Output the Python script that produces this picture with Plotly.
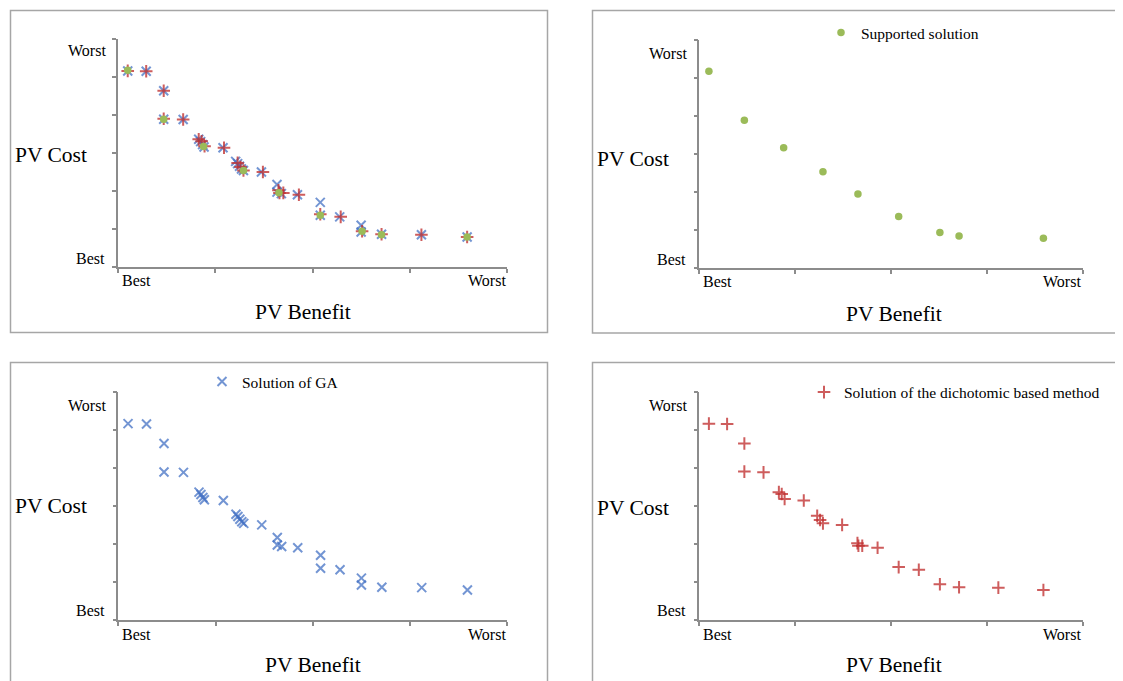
import plotly.graph_objects as go

# the page body adds an 8px margin, so the figure is drawn 8px in from the window corner
OFF = 8
W, H = 1123 - OFF, 681 - OFF

# ---------------- data (abstract "Best" -> "Worst" scales: x 0..4, y 0..6) ----------------
supported_x = [0.10, 0.47, 0.88, 1.29, 1.655, 2.08, 2.51, 2.71, 3.59]
supported_y = [5.18, 3.89, 3.17, 2.54, 1.955, 1.36, 0.94, 0.85, 0.79]

ga_x = [0.10, 0.29, 0.47, 0.47, 0.67, 0.83, 0.85, 0.87, 0.885, 1.08,
        1.21, 1.23, 1.25, 1.27, 1.29, 1.475, 1.635, 1.635, 1.68, 1.845,
        2.08, 2.08, 2.28, 2.50, 2.50, 2.71, 3.12, 3.59]
ga_y = [5.16, 5.15, 4.64, 3.89, 3.88, 3.36, 3.30, 3.22, 3.16, 3.14,
        2.78, 2.72, 2.65, 2.58, 2.54, 2.50, 2.17, 1.97, 1.93, 1.90,
        1.70, 1.36, 1.32, 1.10, 0.92, 0.86, 0.85, 0.79]

dm_x = [0.10, 0.29, 0.47, 0.47, 0.67, 0.83, 0.86, 0.89, 1.09,
        1.23, 1.26, 1.29, 1.49, 1.65, 1.70, 1.66, 1.86,
        2.08, 2.29, 2.51, 2.71, 3.12, 3.59]
dm_y = [5.16, 5.15, 4.64, 3.90, 3.88, 3.36, 3.31, 3.18, 3.14,
        2.74, 2.63, 2.54, 2.50, 2.02, 1.95, 1.95, 1.90,
        1.39, 1.32, 0.94, 0.86, 0.85, 0.79]

x_tickvals = [0, 1, 2, 3, 4]
y_tickvals = [0, 1, 2, 3, 4, 5, 6]
scale_labels = ["Best", "Worst"]
x_title = "PV Benefit"
y_title = "PV Cost"
legend_names = ["Supported solution", "Solution of the dichotomic based method", "Solution of GA"]

# ---------------- styles ----------------
FONT = "Liberation Serif, Times New Roman, serif"
AX_COL = "#8c8c8c"
BOX_COL = "#a6a6a6"
GREEN = "#9BBB59"
BLUE = "rgba(68,114,196,0.75)"
RED = "rgba(192,48,48,0.78)"


def px_x(p):
    return (p - OFF) / W


def px_y(p):
    return 1 - (p - OFF) / H


fig = go.Figure()

# panel axes in window pixels: (left, right, top, bottom)
panels = {
    "": (118, 507, 39, 267),
    "2": (699.3, 1082.7, 40, 268.3),
    "3": (118.3, 507.3, 391.7, 620),
    "4": (699.3, 1082.7, 391.7, 620),
}


def ga_trace(ax, show, legend="legend"):
    return go.Scatter(x=ga_x, y=ga_y, mode="markers", name=legend_names[2],
                      xaxis="x" + ax, yaxis="y" + ax, showlegend=show, legend=legend,
                      marker=dict(symbol="x-thin-open", size=9, color=BLUE,
                                  line=dict(color=BLUE, width=2)))


def dm_trace(ax, show, legend="legend"):
    return go.Scatter(x=dm_x, y=dm_y, mode="markers", name=legend_names[1],
                      xaxis="x" + ax, yaxis="y" + ax, showlegend=show, legend=legend,
                      marker=dict(symbol="cross-thin-open", size=9, color=RED,
                                  line=dict(color=RED, width=2)))


def sup_trace(ax, show, legend="legend"):
    return go.Scatter(x=supported_x, y=supported_y, mode="markers", name=legend_names[0],
                      xaxis="x" + ax, yaxis="y" + ax, showlegend=show, legend=legend,
                      marker=dict(symbol="circle", size=7.5, color=GREEN))


# top-left composite
fig.add_trace(ga_trace("", False))
fig.add_trace(dm_trace("", False))
fig.add_trace(sup_trace("", False))
# top-right supported
fig.add_trace(sup_trace("2", True, "legend"))
# bottom-left GA
fig.add_trace(ga_trace("3", True, "legend2"))
# bottom-right dichotomic
fig.add_trace(dm_trace("4", True, "legend3"))

layout = dict(width=W, height=H, margin=dict(l=0, r=0, t=0, b=0),
              paper_bgcolor="white", plot_bgcolor="white",
              font=dict(family=FONT, color="black"))

for ax, (l, r, t, b) in panels.items():
    layout["xaxis" + ax] = dict(domain=[px_x(l), px_x(r)], range=[0, 4], anchor="y" + ax,
                                tickvals=x_tickvals, showticklabels=False, ticks="outside",
                                ticklen=4, tickwidth=1.5, tickcolor=AX_COL, showline=True,
                                linecolor=AX_COL, linewidth=1.5, showgrid=False, zeroline=False,
                                fixedrange=True)
    layout["yaxis" + ax] = dict(domain=[px_y(b), px_y(t)], range=[0, 6], anchor="x" + ax,
                                tickvals=y_tickvals, showticklabels=False, ticks="outside",
                                ticklen=4, tickwidth=1.5, tickcolor=AX_COL, showline=True,
                                linecolor=AX_COL, linewidth=1.5, showgrid=False, zeroline=False,
                                fixedrange=True)

leg_common = dict(font=dict(family=FONT, size=15.5, color="black"), bgcolor="rgba(0,0,0,0)",
                  borderwidth=0, xanchor="left", yanchor="middle", itemwidth=30)
layout["legend"] = dict(leg_common, x=px_x(841 - 20), y=px_y(33))
layout["legend2"] = dict(leg_common, x=px_x(222 - 20), y=px_y(382))
layout["legend3"] = dict(leg_common, x=px_x(824 - 20), y=px_y(392.5))

annotations = []


def ann(text, x, y, xanchor, size):
    annotations.append(dict(text=text, x=px_x(x), y=px_y(y), xref="paper", yref="paper",
                            xanchor=xanchor, yanchor="middle", showarrow=False,
                            font=dict(family=FONT, size=size, color="black")))


# (PV Cost left, y), (PV Benefit center x, y), y-Worst (right, y), y-Best (right, y),
# x-Best (left, y), x-Worst (right, y)
text_pos = [
    ((13, 155), (303, 312.5), (108, 50.5), (107, 258.5), (120, 280.5), (508, 280.5)),
    ((595, 159), (894, 314), (689, 53.5), (688, 259.5), (701, 281.5), (1083, 281.5)),
    ((12.5, 505.5), (313, 665), (108, 405), (107, 610.5), (120, 634), (508, 634)),
    ((595, 507.5), (894, 665), (689, 405), (688, 610.5), (701, 634), (1083, 634)),
]
for cost, ben, yw, yb, xb, xw in text_pos:
    ann(y_title, cost[0], cost[1], "left", 21.5)
    ann(x_title, ben[0], ben[1], "center", 21.5)
    ann(scale_labels[1], yw[0], yw[1], "right", 16)
    ann(scale_labels[0], yb[0], yb[1], "right", 16)
    ann(scale_labels[0], xb[0], xb[1], "left", 16)
    ann(scale_labels[1], xw[0], xw[1], "right", 16)

layout["annotations"] = annotations

# panel frames (window pixels)
shapes = []
for (x0, y0, x1, y1) in [(10.5, 10.5, 547.5, 332.5), (592.5, 10.5, 1135, 333),
                         (10.5, 362.5, 547.5, 700), (592.5, 362.5, 1135, 700)]:
    shapes.append(dict(type="rect", xref="paper", yref="paper", x0=px_x(x0), x1=px_x(x1),
                       y0=px_y(y1), y1=px_y(y0), line=dict(color=BOX_COL, width=1.5),
                       fillcolor="rgba(0,0,0,0)", layer="below"))
layout["shapes"] = shapes

fig.update_layout(**layout)
fig.write_html("out.html")
